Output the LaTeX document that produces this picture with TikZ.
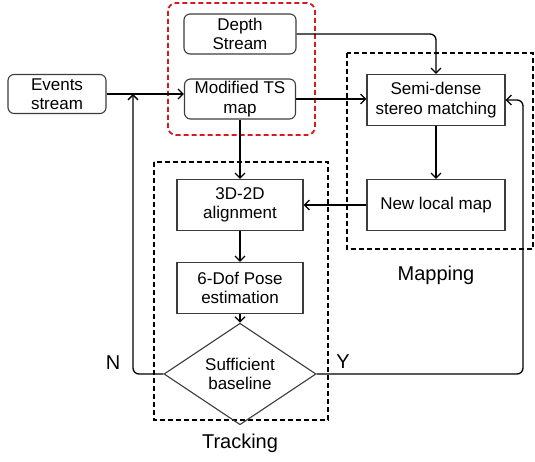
\documentclass[tikz,border=0pt]{standalone}
\usepackage{fontspec}
\setmainfont{Liberation Sans}
\usepackage{tikz}
\usetikzlibrary{arrows.meta,positioning,shapes.geometric}
\definecolor{edgegray}{RGB}{60,60,60}
\definecolor{framered}{RGB}{215,25,32}
\tikzset{
  rbox/.style   ={rounded corners=6pt,draw=edgegray,line width=1.1pt,align=center,inner sep=0pt,font=\fontsize{17}{19.5}\selectfont},
  sbox/.style   ={draw=edgegray,line width=1.1pt,align=center,inner sep=0pt,minimum width=126pt,minimum height=51pt,font=\fontsize{17}{19.5}\selectfont},
  decide/.style ={diamond,draw=edgegray,line width=1.1pt,align=center,inner sep=0pt,minimum width=152pt,minimum height=64pt,font=\fontsize{17}{19.5}\selectfont},
  arr/.style    ={line width=1.3pt,-{Straight Barb[length=5pt,width=10pt]}},
  frame/.style  ={draw=black,line width=1.1pt,dash pattern=on 5pt off 3pt},
  redframe/.style={draw=framered,line width=1.8pt,dash pattern=on 5pt off 3pt,rounded corners=8pt},
  lbl/.style    ={font=\fontsize{20}{22}\selectfont},
}
\begin{document}
\begin{tikzpicture}[x=1pt,y=-1pt]
  \useasboundingbox (0,0) rectangle (535,462);
  % groups
  \draw[redframe] (168,3) rectangle (315,135);
  \draw[frame] (347,53) rectangle (533,249);
  \draw[frame] (154,162) rectangle (328,420);
  \node[lbl] (mapping) at (436,275) {Mapping};
  \node[lbl] (tracking) at (240,443) {Tracking};
  % inputs
  \node[rbox,minimum width=98pt,minimum height=39pt] (events) at (57,94) {Events\\stream};
  \node[rbox,minimum width=112pt,minimum height=40pt] (depth) at (240,34) {Depth\\Stream};
  \node[rbox,minimum width=111pt,minimum height=40pt] (tsmap) at (240,99) {Modified TS\\map};
  % mapping
  \node[sbox,minimum width=138pt] (stereo) at (436,100) {Semi-dense\\stereo matching};
  \node[sbox,minimum width=138pt] (localmap) at (436,205) {New local map};
  % tracking
  \node[sbox] (align) at (240,205) {3D-2D\\alignment};
  \node[sbox] (pose) at (240,288) {6-Dof Pose\\estimation};
  \node[decide] (base) at (240,374) {Sufficient\\baseline};
  \node[lbl] (lblN) at (113,363) {N};
  \node[lbl] (lblY) at (343,362) {Y};
  \coordinate (join) at (133,94);
  \coordinate (yturn) at (523,374);
  % connectors
  \draw[arr] (events.east) -- (events.east -| tsmap.west);
  \draw[arr,rounded corners=6pt] (base.west) -| (join);
  \draw[arr,rounded corners=6pt] (depth.east) -| (stereo.north);
  \draw[arr] (tsmap.east) -- (tsmap.east -| stereo.west);
  \draw[arr] (stereo) -- (localmap);
  \draw[arr] (localmap) -- (align);
  \draw[arr] (tsmap) -- (align);
  \draw[arr] (align) -- (pose);
  \draw[arr] (pose) -- (base);
  \draw[arr,rounded corners=6pt] (base.east) -- (yturn) |- (stereo.east);
\end{tikzpicture}
\end{document}
